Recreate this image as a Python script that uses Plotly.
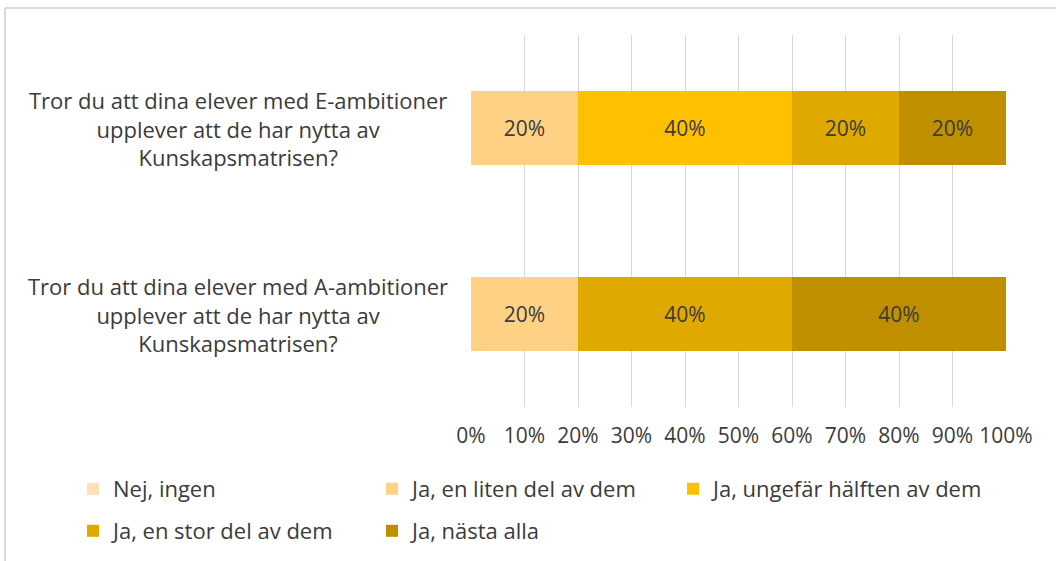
import plotly.graph_objects as go

categories = [
    "Tror du att dina elever med E-ambitioner<br>upplever att de har nytta av<br>Kunskapsmatrisen?",
    "Tror du att dina elever med A-ambitioner<br>upplever att de har nytta av<br>Kunskapsmatrisen?",
]
series_names = ["Nej, ingen", "Ja, en liten del av dem", "Ja, ungefär hälften av dem",
                "Ja, en stor del av dem", "Ja, nästa alla"]
nej_ingen = [0, 0]
liten_del = [20, 20]
ungefar_halften = [40, 0]
stor_del = [20, 40]
nasta_alla = [20, 40]
series_values = [nej_ingen, liten_del, ungefar_halften, stor_del, nasta_alla]
x_ticks = [0, 10, 20, 30, 40, 50, 60, 70, 80, 90, 100]
x_tick_labels = [f"{t}%" for t in x_ticks]

colors = ["#FFE0B8", "#FFD185", "#FFC000", "#E0A900", "#BF8F00"]
legend_ids = ["legend", "legend", "legend3", "legend2", "legend2"]

FONT = "Open Sans, Liberation Sans, sans-serif"
TXT = "#3b3b3b"
W, H = 1056, 561
ML, MR, MT, MB = 471, 50, 35, 154
pw = W - ML - MR
ph = H - MT - MB

fig = go.Figure()
for name, vals, col, lg in zip(series_names, series_values, colors, legend_ids):
    fig.add_trace(go.Bar(
        y=categories, x=vals, name=name, orientation="h",
        marker=dict(color=col, line=dict(width=0)),
        text=[f"{v}%" if v > 0 else "" for v in vals],
        textposition="inside", insidetextanchor="middle",
        textfont=dict(family=FONT, size=21, color=TXT),
        legend=lg, hoverinfo="skip",
    ))

# category labels as centered annotations
for c in categories:
    fig.add_annotation(
        x=-(ML - 238) / pw, xref="paper", y=c, yref="y",
        text=c, showarrow=False, align="center", xanchor="center", yanchor="middle",
        font=dict(family=FONT, size=22, color=TXT),
    )

bx = (5 - ML) / pw
ty = 1 + (MT - 8) / ph
fig.add_shape(type="line", xref="paper", yref="paper", x0=bx, x1=(W + 10 - ML) / pw, y0=ty, y1=ty,
              line=dict(color="#d9d9d9", width=2))
fig.add_shape(type="line", xref="paper", yref="paper", x0=bx, x1=bx, y0=ty, y1=-(MB + 10) / ph,
              line=dict(color="#d9d9d9", width=2))

leg_common = dict(orientation="h", xref="paper", yref="paper",
                  xanchor="left", yanchor="middle",
                  entrywidth=254, entrywidthmode="pixels", bgcolor="rgba(0,0,0,0)",
                  font=dict(family=FONT, size=22, color=TXT), traceorder="normal")
leg3 = dict(leg_common, entrywidth=300)

fig.update_layout(
    width=W, height=H,
    margin=dict(l=ML, r=MR, t=MT, b=MB, autoexpand=False),
    barmode="stack", bargap=0.6,
    plot_bgcolor="white", paper_bgcolor="white",
    font=dict(family=FONT, size=20, color=TXT),
    xaxis=dict(range=[0, 100], tickvals=x_ticks, ticktext=x_tick_labels,
               showgrid=True, gridcolor="#d9d9d9", gridwidth=1, zeroline=False,
               showline=False, ticks="", ticklabelstandoff=14,
               tickfont=dict(family=FONT, size=21, color=TXT), fixedrange=True),
    yaxis=dict(autorange="reversed", showticklabels=False, showgrid=False,
               zeroline=False, showline=False, ticks=""),
    legend=dict(x=(73 - ML) / pw, y=-(489 - (H - MB)) / ph, **leg_common),
    legend3=dict(x=(673 - ML) / pw, y=-(489 - (H - MB)) / ph, **leg3),
    legend2=dict(x=(73 - ML) / pw, y=-(531 - (H - MB)) / ph, **leg_common),
    showlegend=True,
)

fig.write_html("out.html", config={"displayModeBar": False},
               post_script="document.body.style.margin='0';")
